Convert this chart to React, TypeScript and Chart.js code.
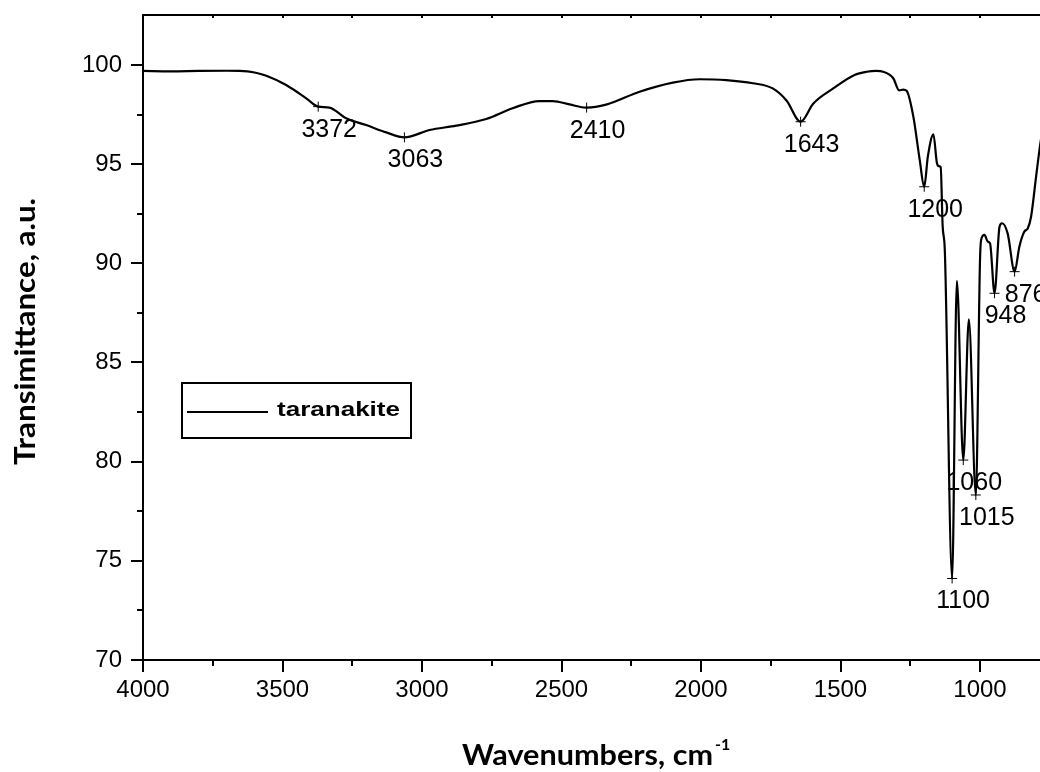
import React, { useEffect, useRef } from "react";
import { Chart, registerables } from "chart.js";

Chart.register(...registerables);

// ---- Data ----
const wavenumbers = [
  4000, 3900, 3800, 3700, 3654, 3600, 3558, 3487, 3415, 3372, 3332, 3272, 3200, 3128, 3063,
  2973, 2877, 2770, 2675, 2579, 2531, 2471, 2410, 2340, 2220, 2101, 2005, 1910, 1814, 1743,
  1693, 1643, 1598, 1526, 1450, 1406, 1372, 1347, 1311, 1290, 1275, 1263, 1239, 1216, 1200,
  1187, 1167, 1155, 1148, 1141, 1134, 1126, 1100, 1083, 1060, 1040, 1015, 1000, 996, 984,
  972, 964, 948, 930, 921, 901, 876, 859, 841, 829, 817, 799, 787, 770,
];
const transmittance = [
  99.7, 99.68, 99.7, 99.71, 99.7, 99.62, 99.46, 98.99, 98.32, 97.9, 97.85, 97.31, 96.97, 96.6, 96.35,
  96.72, 96.94, 97.28, 97.82, 98.18, 98.18, 98.01, 97.85, 98.0, 98.65, 99.11, 99.28, 99.24, 99.08, 98.82,
  98.2, 97.14, 98.05, 98.82, 99.5, 99.66, 99.7, 99.66, 99.33, 98.72, 98.76, 98.7, 97.4, 95.2, 93.86,
  95.38, 96.5, 95.1, 94.9, 94.85, 91.9, 90.6, 74.11, 89.12, 80.08, 87.17, 78.32, 90.17, 91.18, 91.43,
  91.09, 91.0, 88.49, 91.85, 92.02, 91.51, 89.58, 90.84, 91.6, 91.76, 92.35, 94.37, 95.71, 97.3,
];
const peakWavenumbers = [3372, 3063, 2410, 1643, 1200, 1100, 1060, 1015, 948, 876];
const peakTransmittance = [97.9, 96.35, 97.85, 97.14, 93.86, 74.11, 80.08, 78.32, 88.49, 89.58];

const xMajorTicks = [4000, 3500, 3000, 2500, 2000, 1500, 1000];
const xMinorTicks = [3750, 3250, 2750, 2250, 1750, 1250];
const yMajorTicks = [70, 75, 80, 85, 90, 95, 100];
const yMinorTicks = [72.5, 77.5, 82.5, 87.5, 92.5, 97.5];

const seriesName = "taranakite";
const xTitle = "Wavenumbers, cm";
const xTitleSup = "-1";
const yTitle = "Transimittance, a.u.";

const ARIAL = "'Liberation Sans', Arial, sans-serif";
const TITLE_FONT = "Lato, 'Open Sans', sans-serif";

function drawFitted(ctx: CanvasRenderingContext2D, text: string, width: number) {
  const w = ctx.measureText(text).width;
  ctx.save();
  ctx.scale(width / w, 1);
  ctx.fillText(text, 0, 0);
  ctx.restore();
}

const decorPlugin = {
  id: "decor",
  afterDraw(chart: any) {
    const { ctx, chartArea: a, scales } = chart;
    const xs = scales.x;
    const ys = scales.y;
    ctx.save();
    ctx.strokeStyle = "#000";
    ctx.fillStyle = "#000";
    ctx.lineWidth = 2;
    const seg = (x1: number, y1: number, x2: number, y2: number) => {
      ctx.beginPath();
      ctx.moveTo(x1, y1);
      ctx.lineTo(x2, y2);
      ctx.stroke();
    };
    // top frame line
    seg(a.left - 1, a.top, a.right, a.top);
    // x ticks
    xMajorTicks.forEach((v) => {
      const px = Math.round(xs.getPixelForValue(v));
      seg(px, a.bottom, px, a.bottom + 12);
      seg(px, a.top, px, a.top + 3);
    });
    xMinorTicks.forEach((v) => {
      const px = Math.round(xs.getPixelForValue(v));
      seg(px, a.bottom, px, a.bottom + 6);
      seg(px, a.top, px, a.top + 3);
    });
    // y ticks
    yMajorTicks.forEach((v) => {
      const py = Math.round(ys.getPixelForValue(v));
      seg(a.left, py, a.left - 12, py);
    });
    yMinorTicks.forEach((v) => {
      const py = Math.round(ys.getPixelForValue(v));
      seg(a.left, py, a.left - 6, py);
    });

    // peak labels
    ctx.font = `25px ${ARIAL}`;
    ctx.textAlign = "center";
    ctx.textBaseline = "middle";
    peakWavenumbers.forEach((w, i) => {
      const px = xs.getPixelForValue(w);
      const py = ys.getPixelForValue(peakTransmittance[i]);
      ctx.fillText(String(w), px + 11, py + 23);
    });

    // legend box
    ctx.lineWidth = 2;
    ctx.strokeRect(182, 383, 229, 55);
    seg(187, 412, 268, 412);
    ctx.font = `bold 20px ${ARIAL}`;
    ctx.textAlign = "left";
    ctx.textBaseline = "alphabetic";
    ctx.save();
    ctx.translate(277, 416);
    drawFitted(ctx, seriesName, 123);
    ctx.restore();

    // x title
    ctx.font = `bold 28px ${TITLE_FONT}`;
    ctx.save();
    ctx.translate(462, 765);
    drawFitted(ctx, xTitle, 251);
    ctx.restore();
    ctx.font = `bold 16px ${TITLE_FONT}`;
    ctx.fillText(xTitleSup, 715, 750);

    // y title
    ctx.font = `bold 28px ${TITLE_FONT}`;
    ctx.save();
    ctx.translate(35, 465);
    ctx.rotate(-Math.PI / 2);
    drawFitted(ctx, yTitle, 267);
    ctx.restore();

    ctx.restore();
  },
};

export default function App() {
  const ref = useRef<HTMLCanvasElement | null>(null);
  useEffect(() => {
    if (!ref.current) return;
    const chart = new Chart(ref.current, {
      type: "line",
      data: {
        datasets: [
          {
            label: seriesName,
            data: wavenumbers.map((w, i) => ({ x: w, y: transmittance[i] })),
            borderColor: "#000",
            borderWidth: 2.2,
            pointRadius: 0,
            fill: false,
            cubicInterpolationMode: "monotone",
          },
          {
            label: "peaks",
            data: peakWavenumbers.map((w, i) => ({ x: w, y: peakTransmittance[i] })),
            showLine: false,
            pointStyle: "cross",
            pointRadius: 5,
            borderColor: "#000",
            borderWidth: 1,
            backgroundColor: "#000",
          },
        ],
      },
      options: {
        animation: false,
        responsive: true,
        maintainAspectRatio: false,
        devicePixelRatio: 1,
        layout: { autoPadding: false, padding: { top: 15, left: 0, right: 0, bottom: 0 } },
        plugins: { legend: { display: false }, tooltip: { enabled: false } },
        scales: {
          x: {
            type: "linear",
            reverse: true,
            min: 785,
            max: 4000,
            grid: { display: false, drawTicks: false },
            border: { display: true, color: "#000", width: 2 },
            ticks: {
              color: "#000",
              font: { family: ARIAL, size: 24 },
              padding: 16,
              maxRotation: 0,
              autoSkip: false,
              callback: (v: any) => String(v),
            },
            afterBuildTicks: (s: any) => {
              s.ticks = xMajorTicks.map((v) => ({ value: v }));
            },
            afterFit: (s: any) => {
              s.height = 112;
              s.paddingLeft = 0;
              s.paddingRight = 0;
            },
          },
          y: {
            type: "linear",
            min: 70,
            max: 102.52,
            grid: { display: false, drawTicks: false },
            border: { display: true, color: "#000", width: 2 },
            ticks: {
              color: "#000",
              font: { family: ARIAL, size: 24 },
              padding: 21,
              autoSkip: false,
              callback: (v: any) => String(v),
            },
            afterBuildTicks: (s: any) => {
              s.ticks = yMajorTicks.map((v) => ({ value: v }));
            },
            afterFit: (s: any) => {
              s.width = 143;
              s.paddingTop = 0;
              s.paddingBottom = 0;
            },
          },
        },
      } as any,
      plugins: [decorPlugin],
    });
    return () => chart.destroy();
  }, []);
  return (
    <div style={{ position: "absolute", left: 0, top: 0, width: 1040, height: 772, background: "#fff" }}>
      <canvas ref={ref} />
    </div>
  );
}
